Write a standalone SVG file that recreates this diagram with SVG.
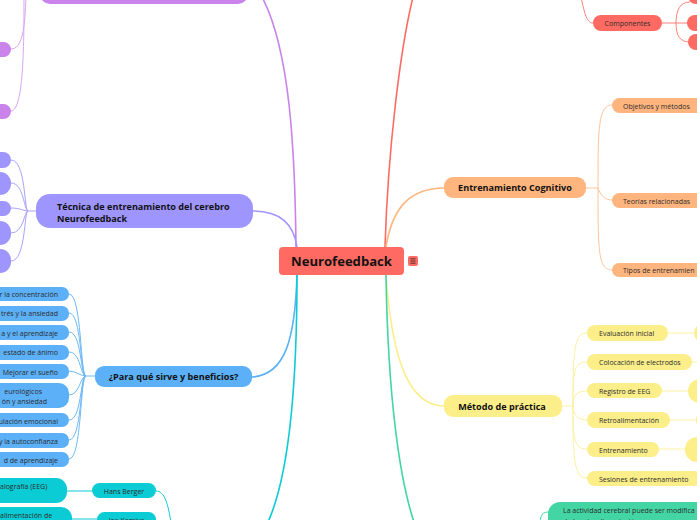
<svg xmlns="http://www.w3.org/2000/svg" width="697" height="520" viewBox="0 0 697 520">
<style>
text{font-family:"Open Sans","Noto Sans","DejaVu Sans",sans-serif;fill:#2b2b2b}
.b{font-weight:bold;fill:#111}
.m{font-size:9.1px}
.s{font-size:7px}
.c{fill:none}
.t1{stroke-width:1.6}
.t2{stroke-width:1}
</style>
<rect width="697" height="520" fill="#ffffff"/>
<g id="connectors" class="c">
  <path class="t1" d="M296,247 C295,150 290,50 262,-3" stroke="#C983EA"/>
  <path class="t1" d="M253,211 C282,211 294,226 297,247" stroke="#9E95FE"/>
  <path class="t1" d="M252,377 C285,375 295,340 297,275" stroke="#5BB0F7"/>
  <path class="t1" d="M297,275 C297,400 287,480 268,522" stroke="#0BCCD4"/>
  <path class="t1" d="M385,247 C388,150 400,50 413,-3" stroke="#FF6B63"/>
  <path class="t1" d="M386,247 C392,208 410,188 444,188" stroke="#FFB57D"/>
  <path class="t1" d="M386,275 C392,362 410,406 444,406" stroke="#FCEF8A"/>
  <path class="t1" d="M386,275 C388,400 400,480 414,522" stroke="#43D5A4"/>
  <g stroke="#D9A6F2" class="t2">
    <path d="M11,49 C22,49 25,30 26,-5"/>
    <path d="M11,111 C24,111 24,40 24,-5"/>
  </g>
  <g stroke="#A9A1FE" class="t2">
    <path d="M36,211 H28"/>
    <path d="M28,211 C24,211 26,160 11,160"/>
    <path d="M28,211 C24,211 24,183 11,183"/>
    <path d="M28,211 C24,211 20,208 11,208"/>
    <path d="M28,211 C24,211 24,233 11,233"/>
    <path d="M28,211 C24,211 26,261 11,261"/>
  </g>
  <g stroke="#6DB9F7" class="t2">
    <path d="M95,376 H86"/>
    <path d="M86,376 C80,376 82,294 69,294"/>
    <path d="M86,376 C80,376 82,313 69,313"/>
    <path d="M86,376 C80,376 82,332 69,332"/>
    <path d="M86,376 C80,376 81,352 69,352"/>
    <path d="M86,376 C80,376 76,371 69,371"/>
    <path d="M86,376 C80,376 80,395 69,395"/>
    <path d="M86,376 C80,376 82,420 69,420"/>
    <path d="M86,376 C80,376 82,440 69,440"/>
    <path d="M86,376 C80,376 82,459 69,459"/>
  </g>
  <g stroke="#0BCCD4" class="t2">
    <path d="M92,491 H67"/>
    <path d="M97,519 H72"/>
    <path d="M156,491 C165,491 168,505 171,522"/>
  </g>
  <g stroke="#FF7F78" class="t2">
    <path d="M593,23 C586,23 584,10 581,-3"/>
    <path d="M662,23 H688"/>
    <path d="M676,23 C676,10 680,2 690,2"/>
    <path d="M676,23 C676,36 680,42 690,42"/>
  </g>
  <g stroke="#FFC49A" class="t2">
    <path d="M586,188 H598"/>
    <path d="M598,188 C598,130 598,105 612,105"/>
    <path d="M598,188 C600,194 604,200 612,200"/>
    <path d="M598,188 C598,250 598,270 612,270"/>
  </g>
  <g stroke="#FBF2A2" class="t2">
    <path d="M562,406 H573"/>
    <path d="M573,406 C573,350 574,333 587,333"/>
    <path d="M573,406 C573,370 574,362 587,362"/>
    <path d="M573,406 C573,396 576,391 587,391"/>
    <path d="M573,406 C573,412 576,420 587,420"/>
    <path d="M573,406 C573,440 574,449 587,449"/>
    <path d="M573,406 C573,460 574,478 587,478"/>
    <path d="M668,333 H695"/>
    <path d="M692,362 H697"/>
    <path d="M662,391 H689"/>
    <path d="M670,420 H697"/>
    <path d="M659,449 H686"/>
  </g>
  <g stroke="#43D5A4" class="t2">
    <path d="M540,522 C541,514 543,512 549,512"/>
  </g>
</g>

<g id="n-center">
  <rect x="279" y="247" width="125" height="28" rx="4" fill="#FF6B63"/>
  <text x="341.5" y="266" class="b" font-size="13.1" text-anchor="middle">Neurofeedback</text>
  <rect x="408" y="256" width="10" height="10" rx="2" fill="#FF6B63"/>
  <path d="M410.5,258.8 H415.5 M410.5,261 H415.5 M410.5,263.2 H415.5" stroke="#222" stroke-width="0.8"/>
</g>

<g id="n-purple-top"><rect x="40" y="-30" width="208" height="34" rx="10" fill="#C983EA"/></g>
<g id="n-purple-1"><rect x="-20" y="42" width="31" height="15" rx="7.5" fill="#C983EA"/></g>
<g id="n-purple-2"><rect x="-20" y="104" width="31" height="15" rx="7.5" fill="#C983EA"/></g>

<g id="n-tecnica">
  <rect x="36" y="194" width="217" height="34" rx="14" fill="#9E95FE"/>
  <text x="57" y="209.5" class="b m">Técnica de entrenamiento del cerebro</text>
  <text x="57" y="221.5" class="b m">Neurofeedback</text>
</g>
<g id="n-tec-1"><rect x="-30" y="152" width="41" height="16" rx="8" fill="#9E95FE"/></g>
<g id="n-tec-2"><rect x="-30" y="172" width="41" height="23" rx="11" fill="#9E95FE"/></g>
<g id="n-tec-3"><rect x="-30" y="201" width="41" height="15" rx="7.5" fill="#9E95FE"/></g>
<g id="n-tec-4"><rect x="-30" y="221" width="41" height="24" rx="11" fill="#9E95FE"/></g>
<g id="n-tec-5"><rect x="-30" y="249" width="41" height="24" rx="11" fill="#9E95FE"/></g>

<g id="n-para">
  <rect x="95" y="366" width="157" height="21" rx="9" fill="#5BB0F7"/>
  <text x="173.5" y="380" class="b m" text-anchor="middle">¿Para qué sirve y beneficios?</text>
</g>
<g id="n-b1"><rect x="-40" y="287" width="109" height="14" rx="7" fill="#5BB0F7"/><text x="58" y="297" class="s" text-anchor="end">r la concentración</text></g>
<g id="n-b2"><rect x="-40" y="306" width="109" height="15" rx="7" fill="#5BB0F7"/><text x="58" y="316" class="s" text-anchor="end">trés y la ansiedad</text></g>
<g id="n-b3"><rect x="-40" y="325" width="109" height="15" rx="7" fill="#5BB0F7"/><text x="58" y="335.5" class="s" text-anchor="end">a y el aprendizaje</text></g>
<g id="n-b4"><rect x="-40" y="345" width="109" height="15" rx="7" fill="#5BB0F7"/><text x="58" y="355" class="s" text-anchor="end">estado de ánimo</text></g>
<g id="n-b5"><rect x="-40" y="364" width="109" height="15" rx="7" fill="#5BB0F7"/><text x="58" y="374.5" class="s" text-anchor="end">Mejorar el sueño</text></g>
<g id="n-b6"><rect x="-40" y="383" width="109" height="25" rx="10" fill="#5BB0F7"/><text x="42" y="394" class="s" text-anchor="end">eurológicos</text><text x="47" y="403.5" class="s" text-anchor="end">ón y ansiedad</text></g>
<g id="n-b7"><rect x="-40" y="413" width="109" height="14" rx="7" fill="#5BB0F7"/><text x="58" y="423.5" class="s" text-anchor="end">ulación emocional</text></g>
<g id="n-b8"><rect x="-40" y="433" width="109" height="15" rx="7" fill="#5BB0F7"/><text x="58" y="443.5" class="s" text-anchor="end">y la autoconfianza</text></g>
<g id="n-b9"><rect x="-40" y="452" width="109" height="15" rx="7" fill="#5BB0F7"/><text x="58" y="462.5" class="s" text-anchor="end">d de aprendizaje</text></g>

<g id="n-eeg"><rect x="-40" y="478" width="107" height="25" rx="11" fill="#0BCCD4"/><text x="0" y="488.5" class="s">alografía (EEG)</text></g>
<g id="n-retro"><rect x="-40" y="507" width="112" height="33" rx="11" fill="#0BCCD4"/><text x="0" y="517.5" class="s">alimentación de</text></g>
<g id="n-hans"><rect x="92" y="483" width="64" height="15" rx="7.5" fill="#0BCCD4"/><text x="124" y="494" class="s" text-anchor="middle">Hans Berger</text></g>
<g id="n-joe"><rect x="97" y="512" width="59" height="20" rx="7.5" fill="#0BCCD4"/><text x="126.5" y="523" class="s" text-anchor="middle">Joe Kamiya</text></g>

<g id="n-componentes"><rect x="593" y="15" width="69" height="16" rx="8" fill="#FF6B63"/><text x="627.5" y="26" class="s" text-anchor="middle">Componentes</text></g>
<g id="n-comp-1"><rect x="688" y="-12" width="30" height="16" rx="8" fill="#FF6B63"/></g>
<g id="n-comp-2"><rect x="687" y="15" width="30" height="16" rx="8" fill="#FF6B63"/></g>
<g id="n-comp-3"><rect x="688" y="34" width="30" height="16" rx="8" fill="#FF6B63"/></g>

<g id="n-cognitivo"><rect x="444" y="177" width="142" height="21" rx="9" fill="#FFB57D"/><text x="515" y="191" class="b m" text-anchor="middle">Entrenamiento Cognitivo</text></g>
<g id="n-objetivos"><rect x="612" y="98" width="110" height="15" rx="7.5" fill="#FFB57D"/><text x="623" y="108.5" class="s">Objetivos y métodos</text></g>
<g id="n-teorias"><rect x="612" y="193" width="110" height="15" rx="7.5" fill="#FFB57D"/><text x="623" y="203.5" class="s">Teorías relacionadas</text></g>
<g id="n-tipos"><rect x="612" y="263" width="110" height="14" rx="7" fill="#FFB57D"/><text x="623" y="273" class="s">Tipos de entrenamien</text></g>

<g id="n-metodo"><rect x="444" y="395" width="118" height="22" rx="9" fill="#FCEF8A"/><text x="502" y="409.5" class="b m" text-anchor="middle">Método de práctica</text></g>
<g id="n-eval"><rect x="587" y="325" width="81" height="16" rx="8" fill="#FCEF8A"/><text x="599" y="336" class="s">Evaluación inicial</text></g>
<g id="n-eval-c"><rect x="694" y="323" width="40" height="20" rx="10" fill="#FCEF8A"/></g>
<g id="n-coloc"><rect x="587" y="354" width="105" height="16" rx="8" fill="#FCEF8A"/><text x="599" y="365" class="s">Colocación de electrodos</text></g>
<g id="n-registro"><rect x="587" y="383" width="75" height="15" rx="7.5" fill="#FCEF8A"/><text x="599" y="394" class="s">Registro de EEG</text></g>
<g id="n-registro-c"><rect x="688" y="379" width="40" height="24" rx="12" fill="#FCEF8A"/></g>
<g id="n-retroal"><rect x="587" y="412" width="83" height="16" rx="8" fill="#FCEF8A"/><text x="599" y="423" class="s">Retroalimentación</text></g>
<g id="n-retroal-c"><rect x="696" y="410" width="40" height="20" rx="10" fill="#FCEF8A"/></g>
<g id="n-entren"><rect x="587" y="442" width="72" height="15" rx="7.5" fill="#FCEF8A"/><text x="599" y="452.5" class="s">Entrenamiento</text></g>
<g id="n-entren-c"><rect x="685" y="437" width="40" height="25" rx="12" fill="#FCEF8A"/></g>
<g id="n-sesiones"><rect x="587" y="471" width="115" height="15" rx="7.5" fill="#FCEF8A"/><text x="599" y="482" class="s">Sesiones de entrenamiento</text></g>

<g id="n-actividad"><rect x="548" y="502" width="200" height="40" rx="12" fill="#43D5A4"/><text x="563" y="513" class="s">La actividad cerebral puede ser modifica</text><text x="563" y="524" class="s">de la retroalimentación</text></g>
</svg>
